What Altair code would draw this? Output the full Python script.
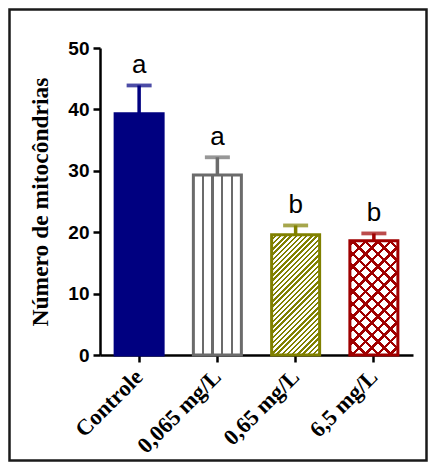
import altair as alt
import pandas as pd

categories = ["Controle", "0,065 mg/L", "0,65 mg/L", "6,5 mg/L"]
means = [39.3, 29.3, 19.6, 18.6]
sems = [4.6, 2.9, 1.5, 1.2]
letters = ["a", "a", "b", "b"]
y_ticks = [0, 10, 20, 30, 40, 50]

colors = ["#000080", "#6b6b6b", "#808000", "#a00000"]

W, H = 313, 307
BAR_W = 48
Y_MAX = 50

df = pd.DataFrame({
    "cat": categories,
    "mean": means,
    "upper": [m + s for m, s in zip(means, sems)],
    "letter": letters,
})


def stripe_stops(length, centers, thick, line_col, bg_col):
    stops = [alt.GradientStop(offset=0, color=bg_col)]
    last = 0.0
    for c in centers:
        a = max(c - thick / 2, 0.0)
        b = min(c + thick / 2, length)
        if b <= 0 or a >= length or b <= a:
            continue
        a = max(a, last)
        stops.append(alt.GradientStop(offset=a / length, color=bg_col))
        stops.append(alt.GradientStop(offset=a / length, color=line_col))
        stops.append(alt.GradientStop(offset=b / length, color=line_col))
        stops.append(alt.GradientStop(offset=b / length, color=bg_col))
        last = b
    stops.append(alt.GradientStop(offset=1, color=bg_col))
    return stops


def diag_gradient(value, period, thick, line_col, bg_col, direction="/", phase=0.0):
    w = BAR_W
    h = value / Y_MAX * H
    L = w + h
    k = L / (w * w + h * h)
    n = int(L / period) + 3
    centers = [phase + i * period for i in range(-1, n)]
    stops = stripe_stops(L, centers, thick, line_col, bg_col)
    if direction == "/":
        return alt.LinearGradient(gradient="linear", stops=stops,
                                  x1=0, y1=0, x2=k * w, y2=k * h)
    return alt.LinearGradient(gradient="linear", stops=stops,
                              x1=0, y1=1, x2=k * w, y2=1 - k * h)


def vert_gradient(line_col, bg_col):
    centers = [0.2 * BAR_W, 0.4 * BAR_W, 0.6 * BAR_W, 0.8 * BAR_W]
    stops = stripe_stops(BAR_W, centers, 2.2, line_col, bg_col)
    return alt.LinearGradient(gradient="linear", stops=stops,
                              x1=0, y1=0, x2=1, y2=0)


x_axis = alt.Axis(
    title=None, labelAngle=-45, labelAlign="right", labelBaseline="middle",
    labelFont="Liberation Serif", labelFontWeight="bold", labelFontSize=22.5,
    labelColor="black", labelPadding=11, tickSize=7, tickWidth=2.5,
    tickColor="black", domainColor="black", domainWidth=2.5,
)
y_axis = alt.Axis(
    title="Número de mitocôndrias", values=y_ticks, grid=False,
    labelFont="Liberation Sans", labelFontWeight="bold", labelFontSize=19,
    labelColor="black", labelPadding=4, tickSize=7, tickWidth=2.5,
    tickColor="black", domainColor="black", domainWidth=2.5,
    titleFont="Liberation Serif", titleFontWeight="bold", titleFontSize=23.5,
    titleColor="black", titleX=-60, titleY=H / 2, titleBaseline="middle",
    titleAlign="center", titleAngle=-90,
)
x_scale = alt.Scale(domain=categories, paddingInner=0, paddingOuter=0)
y_scale = alt.Scale(domain=[0, Y_MAX], nice=False)

x_enc = alt.X("cat:N", sort=categories, scale=x_scale, axis=x_axis)
y_mean = alt.Y("mean:Q", scale=y_scale, axis=y_axis)
y_upper = alt.Y("upper:Q", scale=y_scale, axis=y_axis)

base = alt.Chart(df)


def bar_layer(i, fill, stroke=None, stroke_w=3):
    kw = dict(size=BAR_W, fill=fill, strokeWidth=stroke_w)
    if stroke is not None:
        kw["stroke"] = stroke
    return base.transform_filter(alt.datum.cat == categories[i]).mark_bar(**kw).encode(
        x=x_enc, y=y_mean)


bars = [
    bar_layer(0, colors[0], colors[0]),
    bar_layer(1, vert_gradient(colors[1], "white"), colors[1]),
    bar_layer(2, diag_gradient(means[2], 5.2, 2.4, colors[2], "white", "/"), colors[2]),
    bar_layer(3, diag_gradient(means[3], 12.5, 3.4, colors[3], "white", "/", 4), None, 0),
    bar_layer(3, diag_gradient(means[3], 12.5, 3.4, colors[3], "rgba(255,255,255,0)", "\\", 4),
              colors[3]),
]

color_enc = alt.Color("cat:N", scale=alt.Scale(domain=categories, range=colors), legend=None)

stems = base.mark_rule(strokeWidth=3.5).encode(
    x=x_enc, y=y_mean, y2="upper:Q", color=color_enc)
caps = base.mark_tick(thickness=3.8, size=25).encode(
    x=x_enc, y=y_upper, color=color_enc)
labels = base.mark_text(font="Liberation Sans", fontSize=26, baseline="alphabetic",
                        dy=-12.5, color="black").encode(
    x=x_enc, y=y_upper, text="letter:N")

frame = alt.Chart(pd.DataFrame({"f": [0]})).mark_rect(
    fill=None, stroke="#1a1a1a", strokeWidth=2.5, clip=False
).encode(
    x=alt.value(-90.5), x2=alt.value(326.5), y=alt.value(-38.5), y2=alt.value(412.5)
)

chart = alt.layer(*bars, stems, caps, labels, frame).properties(
    width=W, height=H,
    background="white",
    autosize=alt.AutoSizeParams(type="none"),
    padding={"left": 92, "top": 40, "right": 15, "bottom": 107},
).configure_view(stroke=None)

chart.save("out.html", embed_options={"renderer": "svg", "actions": False})
